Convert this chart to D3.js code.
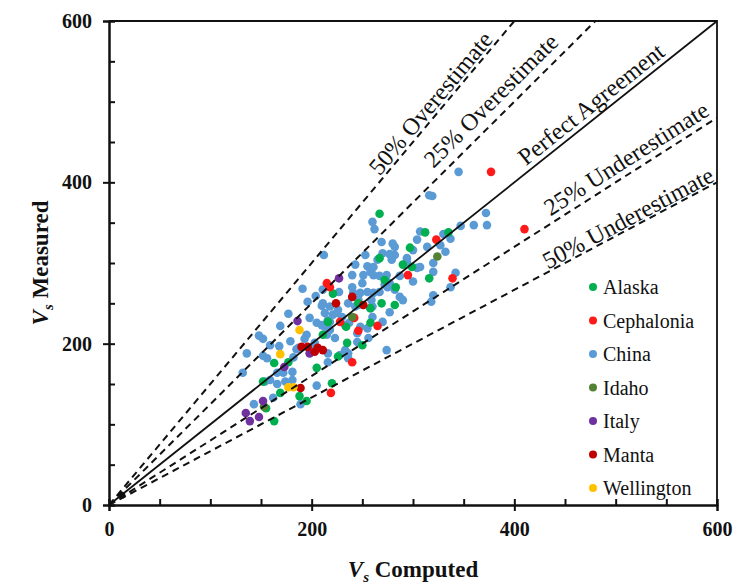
<!DOCTYPE html>
<html>
<head>
<meta charset="utf-8">
<script src="https://cdn.jsdelivr.net/npm/d3@7"></script>
<style>
  html, body { margin: 0; padding: 0; background: #fff; }
  svg { display: block; }
  text { font-family: "Liberation Serif", "Times New Roman", serif; }
</style>
</head>
<body>
<svg id="chart" width="735" height="584"></svg>
<script>
// Measured vs computed shear-wave velocity (Vs), by site
const seriesNames = ["Alaska", "Cephalonia", "China", "Idaho", "Italy", "Manta", "Wellington"];
const seriesColors = ["#00b050", "#ff1a1a", "#5b9bd5", "#548235", "#7030a0", "#c00000", "#ffc000"];

// [computed, measured]
const alaska = [
  [267,361],[312,338],[335,338],[297,319],[299,295],[267,306],[290,298],[283,270],
  [316,281],[221,262],[246,250],[258,244],[282,248],[216,227],[211,211],[258,226],
  [269,250],[234,221],[250,198],[235,201],[226,184],[163,176],[177,177],[152,153],
  [169,139],[188,135],[155,120],[163,104],[195,129],[220,151],[272,279],[205,170]
];
const cephalonia = [
  [377,413],[323,329],[339,281],[295,285],[215,275],[218,270],[242,232],[228,227],
  [265,222],[246,216],[219,139],[240,177],[410,342]
];
const china = [
  [136,188],[132,164],[148,210],[152,206],[152,185],[156,182],[168,197],[169,222],
  [177,237],[179,203],[185,193],[182,183],[193,206],[166,164],[172,164],[181,165],
  [159,155],[174,153],[181,155],[154,153],[166,150],[143,125],[162,133],[189,125],
  [205,148],[159,198],
  [191,268],[196,252],[210,247],[213,238],[221,236],[230,233],[237,226],[236,250],
  [246,248],[240,285],[240,270],[241,263],[248,263],[255,264],[261,263],[267,264],
  [258,244],[260,233],[198,232],[205,226],[195,211],[223,207],[245,213],[256,207],
  [187,195],[203,201],[201,195],[216,188],[236,188],[274,192],[211,267],[272,273],
  [261,285],[233,192],[236,182],[228,186],[216,177],[245,202],[255,219],[227,264],
  [211,250],[218,246],[259,254],[218,227],[233,223],[213,221],[248,221],[215,211],
  [270,227],[250,275],[282,267],[290,254],[277,239],[204,259],[226,242],
  [253,310],[269,326],[280,324],[270,312],[277,311],[243,298],[255,296],[265,304],
  [294,306],[212,310],[260,351],[262,342],[287,258],[282,320],[279,304],[261,295],
  [304,294],[320,300],[320,289],[251,285],[258,289],[267,284],[274,277],[275,270],
  [300,277],[287,284],[337,270],[342,288],[320,260],[318,252],
  [345,413],[316,384],[319,383],[372,362],[373,347],[360,347],[347,346],[307,339],
  [330,336],[337,330],[304,329],[327,322],[314,320],[332,314],[300,316],[294,301],
  [307,295],
  [282,310],[246,255],[243,246],[260,246],[225,238],[216,229],[210,223],[218,217],
  [274,285],[277,275]
];
const idaho = [[324,308],[240,233],[153,122]];
const italy = [[227,281],[186,228],[173,171],[152,129],[135,114],[139,104],[148,109],[198,188]];
const manta = [
  [190,196],[196,196],[206,195],[211,192],[203,190],[189,145],[240,258],[251,248],[224,250]
];
const wellington = [[188,217],[169,187],[177,146],[182,146]];
const originPoint = [[13,12]];

// reference lines: measured = factor * computed
const refFactors = [1.5, 1.25, 1, 0.8, 2 / 3];
const refLabels = ["50% Overestimate", "25% Overestimate", "Perfect Agreement", "25% Underestimate", "50% Underestimate"];
const refLabelAt = [326, 389, 484, 518, 517];   // computed value below each label's centre
const refLabelGap = [11, 17, 13, 14, 10];        // distance of label centre above its line, px

const majorTicks = [0, 200, 400, 600];
const minorTicks = [0, 50, 100, 150, 200, 250, 300, 350, 400, 450, 500, 550, 600];

const svg = d3.select("#chart");
const x = d3.scaleLinear().domain([0, 600]).range([109, 717]);
const y = d3.scaleLinear().domain([0, 600]).range([505, 21]);
const color = d3.scaleOrdinal().domain(seriesNames).range(seriesColors);

const plot = svg.append("g");
svg.append("clipPath").attr("id", "clip")
  .append("rect").attr("x", x(0)).attr("y", y(600))
  .attr("width", x(600) - x(0)).attr("height", y(0) - y(600));

// points
const groups = [
  ["China", china], ["Alaska", alaska], ["Cephalonia", cephalonia], ["Idaho", idaho],
  ["Italy", italy], ["Manta", manta], ["Wellington", wellington]
];
groups.forEach(([name, pts]) => {
  plot.append("g").selectAll("circle").data(pts).join("circle")
    .attr("cx", d => x(d[0])).attr("cy", d => y(d[1]))
    .attr("r", 4.3).attr("fill", color(name));
});
plot.append("g").selectAll("circle").data(originPoint).join("circle")
  .attr("cx", d => x(d[0])).attr("cy", d => y(d[1])).attr("r", 3.2).attr("fill", "#111");

// reference lines
const lineG = svg.append("g").attr("clip-path", "url(#clip)");
refFactors.forEach(k => {
  const xEnd = Math.min(600, 600 / k);
  lineG.append("line")
    .attr("x1", x(0)).attr("y1", y(0))
    .attr("x2", x(xEnd)).attr("y2", y(xEnd * k))
    .attr("stroke", "#111").attr("stroke-width", k === 1 ? 1.8 : 2)
    .attr("stroke-dasharray", k === 1 ? null : "7,5");
});

// line labels, rotated along each line
refFactors.forEach((k, i) => {
  const cx0 = x(refLabelAt[i]), cy0 = y(refLabelAt[i] * k);
  const dx = x(100) - x(0), dy = y(100 * k) - y(0);
  const ang = Math.atan2(dy, dx) * 180 / Math.PI;
  svg.append("text")
    .attr("transform", `translate(${cx0},${cy0}) rotate(${ang}) translate(0,${-refLabelGap[i]})`)
    .attr("text-anchor", "middle").attr("dy", "0.32em")
    .attr("font-size", 24).attr("fill", "#111")
    .text(refLabels[i]);
});

// axes: major ticks cross the axis, minor ticks point inward
svg.append("g").attr("transform", `translate(0,${y(0)})`)
  .call(d3.axisBottom(x).tickValues(majorTicks).tickSize(6).tickPadding(11).tickFormat(d3.format("d")));
svg.append("g").attr("transform", `translate(0,${y(0)})`)
  .call(d3.axisBottom(x).tickValues(minorTicks).tickSize(-6).tickFormat(""));
svg.append("g").attr("transform", `translate(${x(0)},0)`)
  .call(d3.axisLeft(y).tickValues(majorTicks).tickSize(6).tickPadding(11).tickFormat(d3.format("d")));
svg.append("g").attr("transform", `translate(${x(0)},0)`)
  .call(d3.axisLeft(y).tickValues(minorTicks).tickSize(-6).tickFormat(""));

svg.selectAll(".domain").attr("stroke", "#111").attr("stroke-width", 2);
svg.selectAll(".tick line").attr("stroke", "#111").attr("stroke-width", 2);
svg.selectAll(".tick text")
  .attr("font-family", "Liberation Serif, serif")
  .attr("font-size", 20).attr("font-weight", "bold").attr("fill", "#111");

// top and right frame
svg.append("path")
  .attr("d", `M${x(0)},${y(600)}H${x(600)}V${y(0)}`)
  .attr("fill", "none").attr("stroke", "#111").attr("stroke-width", 1.8);

// axis titles
function axisTitle(g, label) {
  const t = g.append("text").attr("font-size", 23).attr("font-weight", "bold").attr("fill", "#111")
    .attr("text-anchor", "middle");
  t.append("tspan").attr("font-style", "italic").text("V");
  t.append("tspan").attr("font-style", "italic").attr("font-size", 15).attr("dy", 5).text("s");
  t.append("tspan").attr("dy", -5).text(" " + label);
  return t;
}
axisTitle(svg.append("g").attr("transform", `translate(${(x(0) + x(600)) / 2},577)`), "Computed");
axisTitle(svg.append("g").attr("transform", `translate(48,${(y(0) + y(600)) / 2}) rotate(-90)`), "Measured");

// legend
const legend = svg.append("g");
seriesNames.forEach((name, i) => {
  const gy = 287 + i * 33.5;
  legend.append("circle").attr("cx", 593).attr("cy", gy).attr("r", 4).attr("fill", color(name));
  legend.append("text").attr("x", 603).attr("y", gy).attr("dy", "0.35em")
    .attr("font-size", 20).attr("fill", "#111").text(name);
});
</script>
</body>
</html>
